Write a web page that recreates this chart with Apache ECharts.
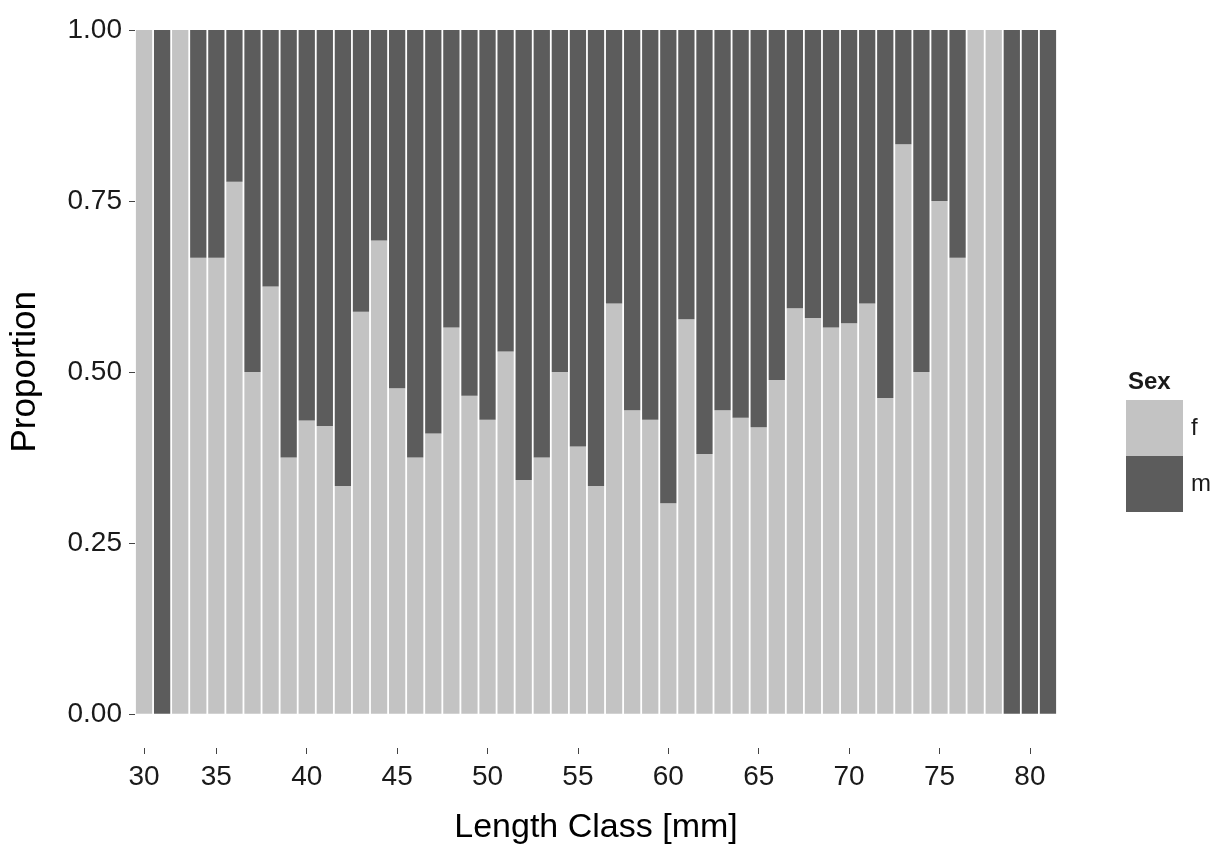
<!DOCTYPE html>
<html>
<head>
<meta charset="utf-8">
<script src="https://cdn.jsdelivr.net/npm/echarts@6/dist/echarts.min.js"></script>
<style>
html,body{margin:0;padding:0;background:#fff;}
#chart{width:1215px;height:846px;}
</style>
</head>
<body>
<div id="chart"></div>
<script>
const lengthClasses = ['30','32','33','34','35','36','37','38','39','40','41','42','43','44','45','46','47','48','49','50','51','52','53','54','55','56','57','58','59','60','61','62','63','64','65','66','67','68','69','70','71','72','73','74','75','76','77','78','79','80','81'];
const femaleProp = [1,0,1,0.667,0.667,0.778,0.5,0.625,0.375,0.429,0.421,0.333,0.588,0.692,0.476,0.375,0.41,0.565,0.465,0.43,0.53,0.342,0.375,0.5,0.391,0.333,0.6,0.444,0.43,0.308,0.577,0.38,0.444,0.433,0.419,0.488,0.593,0.579,0.565,0.571,0.6,0.462,0.833,0.5,0.75,0.667,1,1,0,0,0];
const maleProp = [0,1,0,0.333,0.333,0.222,0.5,0.375,0.625,0.571,0.579,0.667,0.412,0.308,0.524,0.625,0.59,0.435,0.535,0.57,0.47,0.658,0.625,0.5,0.609,0.667,0.4,0.556,0.57,0.692,0.423,0.62,0.556,0.567,0.581,0.512,0.407,0.421,0.435,0.429,0.4,0.538,0.167,0.5,0.25,0.333,0,0,1,1,1];
const xTickLabels = ['30','35','40','45','50','55','60','65','70','75','80'];
const yTickValues = [0, 0.25, 0.5, 0.75, 1];
const yTickLabels = ['0.00','0.25','0.50','0.75','1.00'];
const seriesNames = ['f','m'];

const FONT = "'Liberation Sans', Arial, sans-serif";
const chart = echarts.init(document.getElementById('chart'), null, {renderer:'canvas'});
const showTick = (idx, val) => xTickLabels.indexOf(String(val)) >= 0;

chart.setOption({
  animation:false,
  backgroundColor:'#ffffff',
  grid:{left:135, right:158, top:30, bottom:98, containLabel:false, outerBoundsMode:'none'},
  title:{text:'Sex', left:1128, top:370, padding:0, textStyle:{fontFamily:FONT, fontSize:24, fontWeight:'bold', color:'#1a1a1a'}},
  legend:{
    orient:'vertical', left:1126, top:400, padding:0, itemWidth:57, itemHeight:56, itemGap:0,
    icon:'rect', data:seriesNames,
    textStyle:{fontFamily:FONT, fontSize:24, color:'#1a1a1a', padding:[18,0,0,3]}
  },
  graphic:[{
    type:'text', left:8, top:291,
    style:{text:'Proportion', fontFamily:FONT, fontSize:35, fill:'#000'},
    rotation:Math.PI/2
  }],
  xAxis:{
    type:'category', data:lengthClasses, boundaryGap:true,
    axisLine:{show:false, onZero:false},
    axisTick:{show:true, alignWithLabel:true, length:6, interval:showTick, lineStyle:{color:'#444'}},
    axisLabel:{interval:showTick, margin:15, fontFamily:FONT, fontSize:28, color:'#1a1a1a'},
    name:'Length Class [mm]', nameLocation:'middle', nameGap:63,
    nameTextStyle:{fontFamily:FONT, fontSize:34, color:'#000'},
    splitLine:{show:false}
  },
  yAxis:{
    type:'value', min:-0.05, max:1,
    axisLine:{show:false},
    axisTick:{show:true, length:6, customValues:yTickValues, lineStyle:{color:'#444'}},
    axisLabel:{margin:13, fontFamily:FONT, fontSize:28, color:'#1a1a1a', customValues:yTickValues,
      formatter:(v)=>yTickLabels[yTickValues.indexOf(v)] ?? ''},
    splitLine:{show:false}
  },
  series:[
    {name:seriesNames[0], type:'bar', stack:'p', data:femaleProp, barCategoryGap:'10%', itemStyle:{color:'#c3c3c3'}},
    {name:seriesNames[1], type:'bar', stack:'p', data:maleProp, barCategoryGap:'10%', itemStyle:{color:'#5c5c5c'}}
  ]
});
</script>
</body>
</html>
